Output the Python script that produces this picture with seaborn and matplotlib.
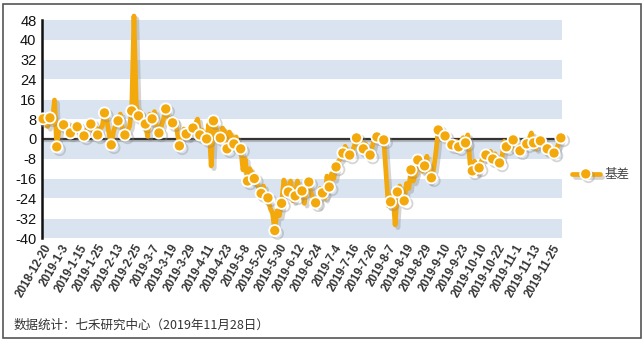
import numpy as np
import pandas as pd
import matplotlib
matplotlib.use("Agg")
import matplotlib.pyplot as plt
import matplotlib.patheffects as pe
from matplotlib.patches import Rectangle
import seaborn as sns

# Daily basis values (futures vs. spot), 2018-12-20 .. 2019-11-28
basis = [
    8.1, 6.5, 5.0, 8.5, 6.5, 15.7, -3.2, 4.0, 6.5, 5.7, 4.5, 3.0,
    2.4, 5.5, 4.0, 4.9, 3.0, 2.0, 1.2, 3.5, 4.5, 6.0, 3.0, 5.0,
    1.6, 4.0, 5.0, 10.5, 8.0, 2.0, -2.4, 3.0, 6.0, 7.3, 10.0, 4.0,
    1.6, 3.0, 5.0, 11.3, 49.6, 14.0, 9.3, 11.0, 7.0, 6.0, 1.0, 10.0,
    8.1, 11.0, 5.0, 2.4, 5.0, 8.0, 12.1, 9.0, 7.5, 6.5, 8.0, 3.0,
    -2.8, 1.0, 4.0, 2.0, 0.5, 3.0, 4.4, 6.0, 8.0, 1.6, 3.5, 2.0,
    0.0, 6.0, -10.9, 7.3, 5.0, 1.0, 0.4, 4.4, 2.8, -4.0, 2.8, 1.0,
    -2.0, 0.8, -3.0, -4.0, -12.5, -8.0, -17.0, -12.0, -14.0, -16.0, -18.0, -20.0,
    -22.0, -19.0, -25.0, -23.8, -28.0, -30.0, -37.0, -29.0, -31.0, -26.0, -16.6, -20.0,
    -21.4, -17.0, -25.0, -23.0, -17.0, -22.0, -21.0, -26.0, -19.0, -17.4, -22.0, -24.0,
    -25.8, -27.0, -20.0, -21.8, -24.0, -15.0, -19.4, -14.0, -16.0, -11.3, -9.0, -8.0,
    -5.7, -3.0, -7.0, -6.5, -5.0, -3.0, 0.4, -2.0, -1.0, -4.0, -2.0, -5.0,
    -6.5, -3.0, 1.0, 0.8, 1.5, -1.0, -0.4, -14.0, -27.0, -25.4, -22.0, -34.7,
    -21.4, -19.0, -24.0, -25.0, -18.0, -20.0, -12.5, -17.0, -14.0, -8.5, -12.0, -13.0,
    -10.9, -7.0, -17.0, -15.7, -12.0, -5.0, 3.6, 1.5, 2.0, 1.2, -1.0, -3.0,
    -2.4, -4.0, -1.0, -3.2, -1.0, 0.5, -1.6, 1.6, -10.0, -12.9, -9.0, -14.0,
    -11.7, -9.0, -7.0, -6.5, -8.0, -5.0, -8.1, -6.0, -10.0, -9.7, -8.0, -1.0,
    -3.2, -1.0, -4.0, -0.4, -1.5, -3.0, -4.8, -2.0, -1.0, -2.0, 0.0, 2.4,
    -1.6, -4.0, 0.5, -0.8, -2.0, -5.0, -4.0, -3.0, -6.5, -5.7, -4.0, -2.0,
    0.4,
]

date_labels = [
    "2018-12-20", "2019-1-3", "2019-1-15", "2019-1-25", "2019-2-13",
    "2019-2-25", "2019-3-7", "2019-3-19", "2019-3-29", "2019-4-11",
    "2019-4-23", "2019-5-8", "2019-5-20", "2019-5-30", "2019-6-12",
    "2019-6-24", "2019-7-4", "2019-7-16", "2019-7-26", "2019-8-7",
    "2019-8-19", "2019-8-29", "2019-9-10", "2019-9-23", "2019-10-10",
    "2019-10-22", "2019-11-1", "2019-11-13", "2019-11-25",
]
label_step = 8
y_ticks = [-40, -32, -24, -16, -8, 0, 8, 16, 24, 32, 40, 48]

series_name = "基差"
footer = "数据统计：七禾研究中心（2019年11月28日）"

LINE = "#F3A80C"
BAND = "#D9E4F0"

sns.set_style("white")
plt.rcParams["font.family"] = ["Liberation Sans", "Noto Sans CJK SC", "DejaVu Sans"]

df = pd.DataFrame({"idx": np.arange(len(basis)), "basis": basis})

fig = plt.figure(figsize=(6.44, 3.42), dpi=100)
ax = fig.add_axes([42 / 644, 1 - 238 / 342, 520 / 644, 218 / 342])

# alternating horizontal bands
for lo in range(-40, 48, 16):
    ax.axhspan(lo, lo + 8, color=BAND, lw=0, zorder=0)
    ax.axhspan(lo + 7.85, lo + 8.0, color="white", lw=0, zorder=0.5)

# zero baseline
ax.axhline(0, color="#333333", lw=1.6, zorder=1,
           path_effects=[pe.SimpleLineShadow(offset=(0, -1.2), shadow_color="#999999", alpha=0.6),
                         pe.Normal()])

sns.lineplot(data=df, x="idx", y="basis", ax=ax, color=LINE, lw=3.4,
             marker="o", markevery=3, markersize=8, markerfacecolor=LINE,
             markeredgecolor="white", markeredgewidth=1.3, label=series_name,
             zorder=3, clip_on=False)
ln = ax.lines[-1]
ln.set_path_effects([pe.SimpleLineShadow(offset=(2, -2), shadow_color="#888888", alpha=0.35),
                     pe.Normal()])

ax.set_xlim(-0.5, len(basis) - 0.5)
ax.set_ylim(-40, 48)
ax.set_yticks(y_ticks)
ax.set_yticklabels([str(v) for v in y_ticks], fontsize=10.5, color="#111111")
tick_pos = np.arange(0, label_step * len(date_labels), label_step)
ax.set_xticks(tick_pos)
ax.set_xticklabels(date_labels, rotation=60, ha="right", rotation_mode="anchor",
                   fontsize=8.3, fontweight="bold", color="#333333")
ax.tick_params(axis="y", length=3, width=1, pad=1, color="#111111")
ax.tick_params(axis="x", length=0, pad=3)
ax.set_xlabel("")
ax.set_ylabel("")
for s in ["top", "right", "bottom"]:
    ax.spines[s].set_visible(False)
ax.spines["left"].set_color("#111111")
ax.spines["left"].set_linewidth(1.8)
ax.grid(False)

leg = ax.legend(loc="center left", bbox_to_anchor=(1.0, 0.29), frameon=False,
                prop={"family": ["Noto Sans CJK SC"], "size": 9}, handlelength=2.2,
                handletextpad=0.4, borderaxespad=0.4)
for t in leg.get_texts():
    t.set_color("#444444")

fig.text(14 / 644, 1 - 325 / 342, footer, fontsize=9, color="#333333",
         family=["Noto Sans CJK SC", "DejaVu Sans"], va="center", ha="left")

# outer frame
fig.patches.append(Rectangle((3 / 644, 4 / 342), 638 / 644, 334 / 342,
                             transform=fig.transFigure, fill=False,
                             edgecolor="#555555", lw=1.2))

fig.savefig("out.png", dpi=100)
